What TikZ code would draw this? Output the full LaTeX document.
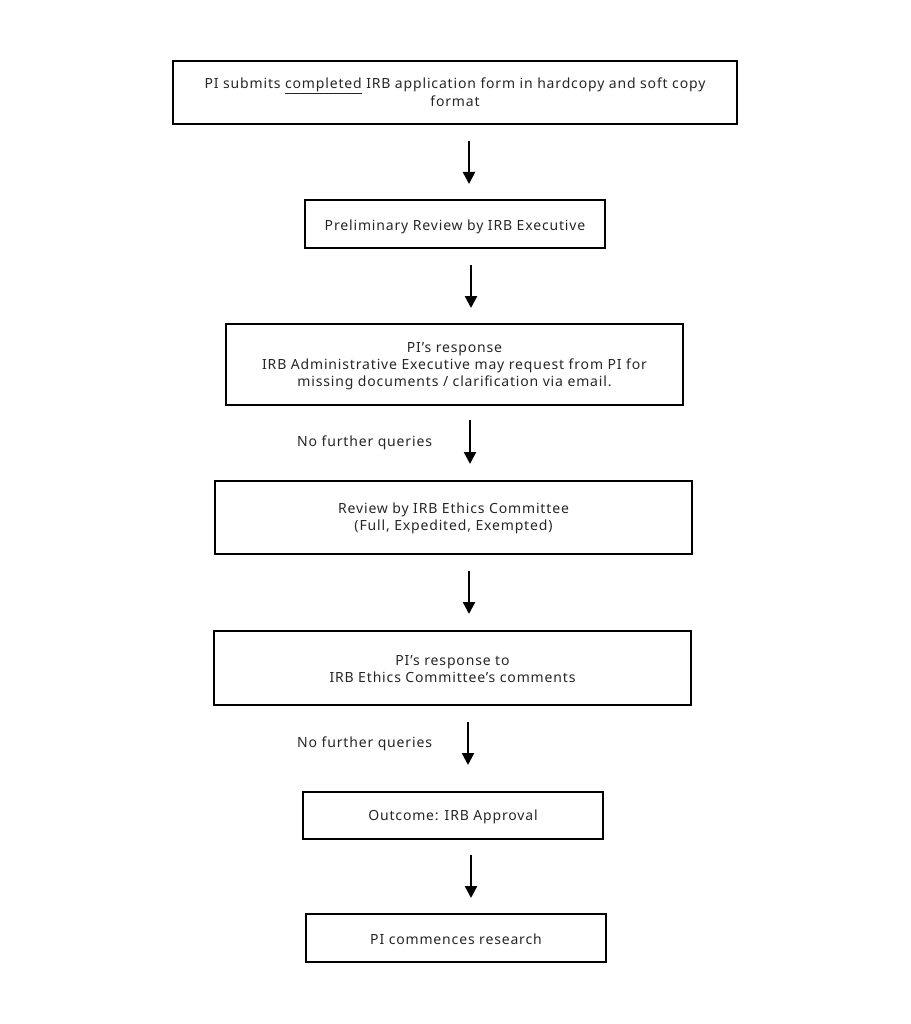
\documentclass[tikz,border=0pt]{standalone}
\usepackage{fontspec}
\setmainfont{Noto Sans}[LetterSpace=6]
\usetikzlibrary{arrows.meta}
\newcommand{\boxtext}[2][2pt]{\raisebox{-#1}[\height][\depth]{\begin{tabular}{@{}c@{}}#2\end{tabular}}}
\begin{document}
\begin{tikzpicture}[x=1pt,y=-1pt,
  stepbox/.style={draw=black,line width=2.4pt,inner sep=0pt,font=\fontsize{14}{17}\selectfont,text=black!85},
  arr/.style={line width=2.4pt,-{Triangle[width=12pt,length=12pt]}},
  lbl/.style={font=\fontsize{14}{17}\selectfont,text=black!85,inner sep=0pt}]
\useasboundingbox (0,0) rectangle (910,1024);
\node[stepbox,minimum width=564pt,minimum height=63pt] (b1) at (455,92.5) {\boxtext[1.5pt]{PI submits \underline{completed} IRB application form in hardcopy and soft copy\\format}};
\node[stepbox,minimum width=300pt,minimum height=48pt] (b2) at (455,224) {\boxtext[3pt]{Preliminary Review by IRB Executive}};
\node[stepbox,minimum width=457pt,minimum height=81pt] (b3) at (454.5,364.5) {\boxtext{PI’s response\\IRB Administrative Executive may request from PI for\\missing documents / clarification via email.}};
\node[stepbox,minimum width=477pt,minimum height=73pt] (b4) at (453.5,517.5) {\boxtext[1pt]{Review by IRB Ethics Committee\\(Full, Expedited, Exempted)}};
\node[stepbox,minimum width=477pt,minimum height=74pt] (b5) at (452.5,668) {\boxtext[3pt]{PI’s response to\\IRB Ethics Committee’s comments}};
\node[stepbox,minimum width=300pt,minimum height=47pt] (b6) at (453,815.5) {\boxtext{Outcome: IRB Approval}};
\node[stepbox,minimum width=300pt,minimum height=48pt] (b7) at (456,938) {\boxtext[3pt]{PI commences research}};
\node[lbl,anchor=west] (l1) at (297,443) {No further queries};
\node[lbl,anchor=west] (l2) at (297,744) {No further queries};
\coordinate (a1s) at (469,141); \coordinate (a1e) at (469,184);
\coordinate (a2s) at (471,265); \coordinate (a2e) at (471,308);
\coordinate (a3s) at (470,420); \coordinate (a3e) at (470,464);
\coordinate (a4s) at (469,571); \coordinate (a4e) at (469,614);
\coordinate (a5s) at (468,722); \coordinate (a5e) at (468,765);
\coordinate (a6s) at (471,855); \coordinate (a6e) at (471,898);
\draw[arr] (a1s) -- (a1e);
\draw[arr] (a2s) -- (a2e);
\draw[arr] (a3s) -- (a3e);
\draw[arr] (a4s) -- (a4e);
\draw[arr] (a5s) -- (a5e);
\draw[arr] (a6s) -- (a6e);
\end{tikzpicture}
\end{document}
